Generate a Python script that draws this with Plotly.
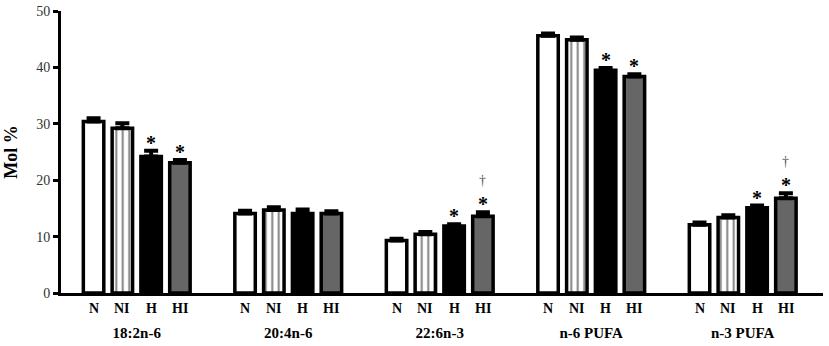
import plotly.graph_objects as go

groups = ["18:2n-6", "20:4n-6", "22:6n-3", "n-6 PUFA", "n-3 PUFA"]
conditions = ["N", "NI", "H", "HI"]
values = {
    "N":  [30.4, 14.1, 9.3, 45.6, 12.1],
    "NI": [29.2, 14.7, 10.4, 44.9, 13.4],
    "H":  [24.2, 14.1, 11.9, 39.5, 15.1],
    "HI": [23.1, 14.1, 13.6, 38.4, 16.8],
}
errors = {
    "N":  [0.6, 0.5, 0.3, 0.4, 0.4],
    "NI": [0.9, 0.5, 0.4, 0.4, 0.4],
    "H":  [1.0, 0.7, 0.3, 0.4, 0.4],
    "HI": [0.5, 0.4, 0.7, 0.4, 0.9],
}
stars = {"H": [1, 0, 1, 1, 1], "HI": [1, 0, 1, 1, 1]}
daggers = {"HI": [0, 0, 1, 0, 1]}
y_ticks = [0, 10, 20, 30, 40, 50]

pitch = 0.19
offsets = {c: (j - 1.5) * pitch for j, c in enumerate(conditions)}
serif = "Liberation Serif, Times New Roman, serif"

styles = {
    "N": dict(color="white"),
    "NI": dict(color="white", pattern=dict(shape="|", fgcolor="black", bgcolor="white", size=6.5, solidity=0.3)),
    "H": dict(color="black"),
    "HI": dict(color="#666666"),
}

fig = go.Figure()
for c in conditions:
    xs = [i + offsets[c] for i in range(len(groups))]
    fig.add_trace(go.Bar(
        x=xs, y=values[c], width=0.135, name=c,
        marker=dict(**styles[c], line=dict(color="black", width=3.5)),
        error_y=dict(type="data", array=errors[c], arrayminus=[0] * len(groups),
                     symmetric=False, color="black", thickness=4, width=7),
        showlegend=False, hoverinfo="skip",
    ))

annotations = []
for c in conditions:
    for i in range(len(groups)):
        x = i + offsets[c]
        annotations.append(dict(x=x, y=0, xref="x", yref="y", text=f"<b>{c}</b>",
                                showarrow=False, yanchor="top", yshift=-6,
                                font=dict(family=serif, size=14, color="black")))
        top = values[c][i] + errors[c][i]
        if stars.get(c, [0] * 5)[i]:
            annotations.append(dict(x=x, y=top, xref="x", yref="y", text="<b>*</b>",
                                    showarrow=False, yanchor="bottom", yshift=-5,
                                    font=dict(family=serif, size=20, color="black")))
        if daggers.get(c, [0] * 5)[i]:
            annotations.append(dict(x=x, y=top, xref="x", yref="y", text="†",
                                    showarrow=False, yanchor="bottom", yshift=22,
                                    font=dict(family=serif, size=14, color="#555555")))

fig.update_layout(
    width=829, height=346,
    margin=dict(l=61, r=6, t=11, b=53),
    plot_bgcolor="white", paper_bgcolor="white",
    barmode="overlay",
    annotations=annotations,
    xaxis=dict(range=[-0.5, 4.53], tickvals=list(range(len(groups))), ticktext=[f"<b>{g}</b>" for g in groups],
               showline=True, linecolor="black", linewidth=3, ticks="", showgrid=False, zeroline=False,
               automargin=False,
               ticklabelstandoff=24, tickfont=dict(family=serif, size=15, color="black")),
    yaxis=dict(range=[0, 50], tickvals=y_ticks, showline=True, linecolor="black", linewidth=3,
               ticks="outside", ticklen=5, tickwidth=2.5, tickcolor="black", showgrid=False, zeroline=False,
               automargin=False,
               tickfont=dict(family=serif, size=14, color="#333333"),
               title=dict(text="<b>Mol %</b>", standoff=14, font=dict(family=serif, size=18, color="black"))),
)

fig.write_html("out.html", config={"displayModeBar": False},
               post_script="document.body.style.margin='0px';")
